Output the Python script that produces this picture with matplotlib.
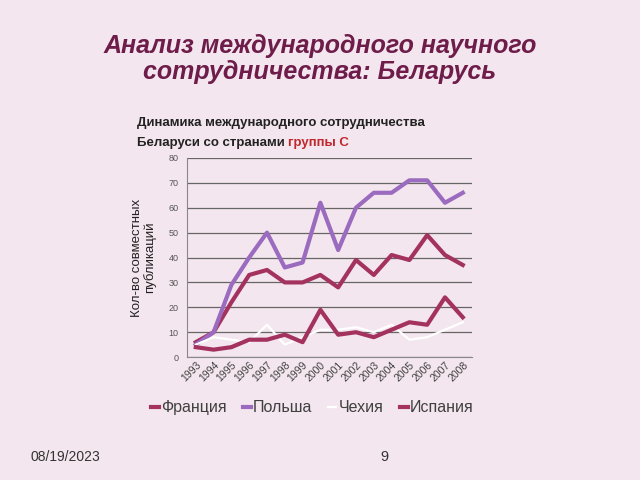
import matplotlib
matplotlib.use("Agg")
import matplotlib.pyplot as plt

years = [str(y) for y in range(1993, 2009)]
france = [6, 10, 22, 33, 35, 30, 30, 33, 28, 39, 33, 41, 39, 49, 41, 37]
poland = [5, 10, 29, 40, 50, 36, 38, 62, 43, 60, 66, 66, 71, 71, 62, 66]
czech = [5, 8, 7, 6, 13, 5, 8, 11, 11, 12, 10, 13, 7, 8, 11, 14]
spain = [4, 3, 4, 7, 7, 9, 6, 19, 9, 10, 8, 11, 14, 13, 24, 16]

bg = '#F4E6EE'
red = '#A3325E'
purple = '#9A6BBE'

plt.rcParams['font.family'] = ['Liberation Sans', 'DejaVu Sans']

fig = plt.figure(figsize=(6.4, 4.8), dpi=100, facecolor=bg)
ax = fig.add_axes([0.292, 0.256, 0.445, 0.415])
ax.set_facecolor(bg)

x = list(range(len(years)))
ax.plot(x, france, color=red, lw=3, label='Франция')
ax.plot(x, poland, color=purple, lw=3, label='Польша')
ax.plot(x, czech, color='white', lw=1.6, label='Чехия')
ax.plot(x, spain, color=red, lw=3, label='Испания')

ax.set_xlim(-0.5, 15.5)
ax.set_ylim(0, 80)
ax.set_yticks(range(0, 81, 10))
ax.set_xticks(x)
ax.set_xticklabels(years, rotation=45, ha='right', rotation_mode='anchor',
                   fontsize=7.5, color='#404040')
ax.tick_params(axis='y', labelsize=6.5, colors='#555555', length=0, pad=6)
ax.tick_params(axis='x', length=0, pad=2)
ax.grid(axis='y', color='#666666', lw=0.9)
ax.set_axisbelow(True)
for s in ['top', 'right']:
    ax.spines[s].set_visible(False)
ax.spines['left'].set_color('#888888')
ax.spines['left'].set_linewidth(0.8)
ax.spines['bottom'].set_color('#888888')

ax.set_ylabel('Кол-во совместных\nпубликаций', fontsize=9.5, color='#222222',
              labelpad=9, linespacing=1.0)

leg = ax.legend(loc='center', bbox_to_anchor=(0.44, -0.255), ncol=4, frameon=False,
                fontsize=11.5, handlelength=0.5, handletextpad=0.15, columnspacing=1.0)
for t in leg.get_texts():
    t.set_color('#404040')

fig.text(0.5, 0.878, 'Анализ международного научного\nсотрудничества: Беларусь',
         ha='center', va='center', fontsize=18, fontweight='bold', fontstyle='italic',
         color='#6E1C4A', linespacing=1.1)

fig.text(0.214, 0.743, 'Динамика международного сотрудничества',
         ha='left', va='center', fontsize=9.5, fontweight='bold', color='#222222')
t1 = fig.text(0.214, 0.702, 'Беларуси со странами ',
              ha='left', va='center', fontsize=9.5, fontweight='bold', color='#222222')
fig.canvas.draw()
bb = t1.get_window_extent()
fig.text(bb.x1 / fig.bbox.width, 0.702, 'группы С',
         ha='left', va='center', fontsize=9.5, fontweight='bold', color='#C0282E')

fig.text(0.048, 0.048, '08/19/2023', ha='left', va='center', fontsize=10, color='#333333')
fig.text(0.595, 0.048, '9', ha='left', va='center', fontsize=10.5, color='#333333')

fig.savefig('out.png', dpi=100, facecolor=bg)
